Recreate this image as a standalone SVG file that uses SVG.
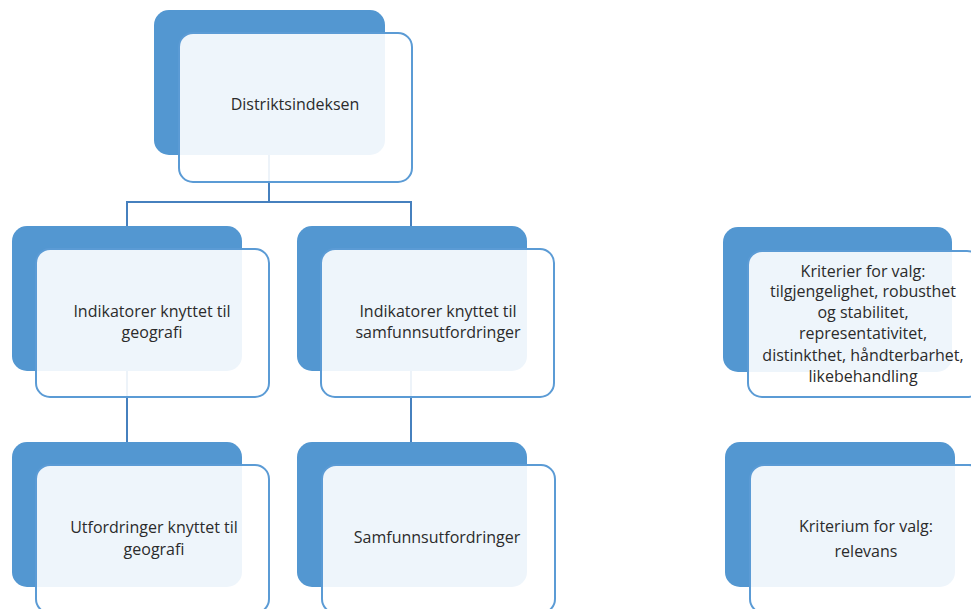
<svg xmlns="http://www.w3.org/2000/svg" width="971" height="609" viewBox="0 0 971 609">
<style>
.back{fill:#5397D1;}
.front{fill:#ffffff;fill-opacity:0.9;stroke:#5B9BD5;stroke-width:2;}
.conn{fill:none;stroke:#4680BE;stroke-width:2;}
text{font-family:"Open Sans","Liberation Sans",sans-serif;font-size:16px;fill:#2b2b2b;text-anchor:middle;}
</style>
<rect width="971" height="609" fill="#ffffff"/>
<g id="connectors">
<path class="conn" d="M269 155 V202 M127 226 V202 H411 V226"/>
<path class="conn" d="M127 371 V442"/>
<path class="conn" d="M411 371 V442"/>
</g>
<g id="n-distriktsindeksen">
<rect class="back" x="154" y="10" width="231" height="145" rx="15"/>
<rect class="front" x="179" y="33" width="233" height="149" rx="14"/>
<text x="295" y="110">Distriktsindeksen</text>
</g>
<g id="n-ind-geografi">
<rect class="back" x="12" y="226" width="230" height="145" rx="15"/>
<rect class="front" x="36" y="249" width="233" height="148" rx="14"/>
<text x="152" y="317">Indikatorer knyttet til</text>
<text x="152" y="338">geografi</text>
</g>
<g id="n-ind-samfunn">
<rect class="back" x="297" y="226" width="230" height="145" rx="15"/>
<rect class="front" x="321" y="249" width="233" height="148" rx="14"/>
<text x="438" y="317">Indikatorer knyttet til</text>
<text x="438" y="338">samfunnsutfordringer</text>
</g>
<g id="n-utf-geografi">
<rect class="back" x="12" y="442" width="230" height="145" rx="15"/>
<rect class="front" x="36" y="465" width="233" height="148" rx="14"/>
<text x="154" y="533">Utfordringer knyttet til</text>
<text x="154" y="555">geografi</text>
</g>
<g id="n-samfunn">
<rect class="back" x="297" y="442" width="230" height="145" rx="15"/>
<rect class="front" x="322" y="465" width="233" height="148" rx="14"/>
<text x="437" y="543">Samfunnsutfordringer</text>
</g>
<g id="n-kriterier">
<rect class="back" x="723" y="227" width="229" height="145" rx="15"/>
<rect class="front" x="748" y="251" width="233" height="146" rx="14"/>
<text x="863" y="277">Kriterier for valg:</text>
<text x="863" y="297">tilgjengelighet, robusthet</text>
<text x="863" y="318">og stabilitet,</text>
<text x="863" y="339">representativitet,</text>
<text x="863" y="361">distinkthet, håndterbarhet,</text>
<text x="863" y="382">likebehandling</text>
</g>
<g id="n-kriterium">
<rect class="back" x="725" y="442" width="230" height="145" rx="15"/>
<rect class="front" x="750" y="465" width="233" height="148" rx="14"/>
<text x="866" y="532">Kriterium for valg:</text>
<text x="866" y="557">relevans</text>
</g>
</svg>
